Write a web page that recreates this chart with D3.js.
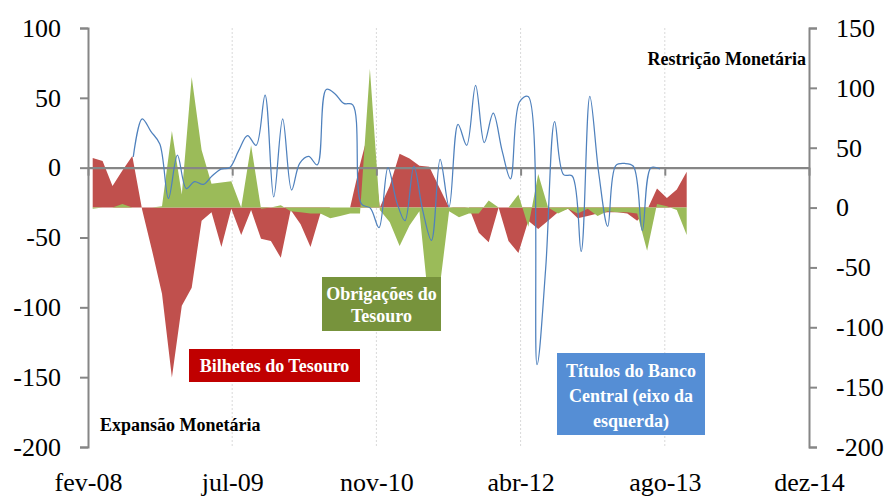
<!DOCTYPE html>
<html>
<head>
<meta charset="utf-8">
<script src="https://cdn.jsdelivr.net/npm/d3@7"></script>
<style>
  body { margin: 0; background: #fff; }
  svg { display: block; }
</style>
</head>
<body>
<div id="chart"></div>
<script>
// eixo de datas (passo de 500 dias entre rótulos)
const axisStart = new Date(2008, 1, 26);
const tickLabels = ["fev-08", "jul-09", "nov-10", "abr-12", "ago-13", "dez-14"];
const leftTicks = [-200, -150, -100, -50, 0, 50, 100];
const rightTicks = [-200, -150, -100, -50, 0, 50, 100, 150];

// meses das séries: ago-08 .. ago-13
const months = d3.timeMonth.range(new Date(2008, 7, 1), new Date(2013, 7, 2));

// Bilhetes do Tesouro (eixo da direita)
const bilhetes = [41.5, 39, 18, 31, 43, -2, -36, -72, -142, -82,
  -67, -11, -4, -33, -1, -23, -2, -26, -28, -42,
  -2, -14, -33, -5, 0, 0, 0, 36, 68, 0,
  18, 45, 41, 35, 34, 17, 0, -1, 0, -21,
  -29, 0, -28, -38, -11, -18, -11, -4, -1, -9,
  -7, -5, -4, -4, -5, -11, -2, 16, 8, 15,
  30];

// Obrigações do Tesouro (eixo da direita)
const obrigacoes = [-1, 0, 0, 3, 0, 0, 0, 1, 64, 11,
  109, 48, 20, 21, 22, 0, 52, -1, 0, 2,
  -3, -4, -5, -5, -9, -7, -5, -5, 116, -2,
  -12, -32, -15, -3, -85, -70, -3, -8, -5, -5,
  6, 0, 0, 11, -16, 28, 0, -5, -1, -5,
  -1, -7, -3, -4, -4, -5, -36, 3, 1, -2,
  -23];

// Títulos do Banco Central (eixo da esquerda)
const titulos = [7.7, 35, 26, 17, -22, 9, -15, -10, -12, -6,
  -1, 0, 12, 23, 16, 52, -21, 35, -16, 3,
  8, 2, 56, 53, 46, 45, -26, -29, -43, 0,
  -25, -38, 1, -30, -52, 6, -28, 31, 16, 59,
  18, 39, 12, -8, 47, 51, -141, -72, 33, -5,
  -6, -60, 51, -4, -42, 1.5, 3, 1, -45, 0,
  -1];

const width = 889, height = 496;
const plotLeft = 88, plotRight = 809, plotTop = 28, plotBottom = 447;
const axisGray = "#868686";

// escolhe a primeira fonte serifada realmente instalada
function pickFont(candidates, fallback) {
  const ctx = document.createElement("canvas").getContext("2d");
  const sample = "Restrição Monetária 0123456789 fev-08";
  const base = f => { ctx.font = "40px " + f; return ctx.measureText(sample).width; };
  const mono = base("monospace"), sans = base("sans-serif");
  for (const c of candidates) {
    if (base(`'${c}', monospace`) !== mono && base(`'${c}', sans-serif`) !== sans) return `'${c}'`;
  }
  return fallback;
}
const serif = pickFont(["Liberation Serif", "DejaVu Serif", "Tinos", "Noto Serif", "Times New Roman", "FreeSerif", "Nimbus Roman"], "serif");

const svg = d3.select("#chart").append("svg")
  .attr("width", width)
  .attr("height", height)
  .attr("font-family", serif);

const tickDates = tickLabels.map((_, k) => d3.timeDay.offset(axisStart, 500 * k));

// escala principal (datas) e escala secundária (categorias das áreas)
const xTime = d3.scaleTime()
  .domain([tickDates[0], tickDates[tickDates.length - 1]])
  .range([plotLeft, plotRight]);
const xSec = d3.scalePoint()
  .domain(d3.range(months.length))
  .range([plotLeft + 4.7, plotLeft + 598.7]);

const yLeft = d3.scaleLinear().domain([-200, 100]).range([plotBottom, plotTop]);
const yRight = d3.scaleLinear().domain([-200, 150]).range([plotBottom, plotTop]);

// linhas de grade verticais pontilhadas
svg.append("g")
  .selectAll("line")
  .data(tickDates.slice(1, -1))
  .join("line")
  .attr("x1", d => xTime(d)).attr("x2", d => xTime(d))
  .attr("y1", plotTop).attr("y2", plotBottom)
  .attr("stroke", "#d9d9d9")
  .attr("stroke-width", 1)
  .attr("stroke-dasharray", "2,2");

// áreas
const area = d3.area()
  .x((d, i) => xSec(i))
  .y0(yRight(0))
  .y1(d => yRight(d));

svg.append("path").datum(bilhetes)
  .attr("d", area)
  .attr("fill", "#C0504D");

svg.append("path").datum(obrigacoes)
  .attr("d", area)
  .attr("fill", "#9BBB59");

// eixo horizontal no zero da esquerda
const zeroAxis = svg.append("g")
  .attr("transform", `translate(0,${yLeft(0)})`)
  .call(d3.axisBottom(xTime)
    .tickValues(tickDates)
    .tickSize(8)
    .tickSizeOuter(0)
    .tickFormat(""));
zeroAxis.select(".domain").attr("stroke", axisGray).attr("stroke-width", 2.25);
zeroAxis.selectAll(".tick line").attr("stroke", axisGray).attr("stroke-width", 2);

// linha dos Títulos do Banco Central
const line = d3.line()
  .x((d, i) => xTime(months[i]))
  .y(d => yLeft(d))
  .curve(d3.curveCatmullRom);

svg.append("path").datum(titulos)
  .attr("d", line)
  .attr("fill", "none")
  .attr("stroke", "#4F81BD")
  .attr("stroke-width", 1.25);

// eixos verticais
function styleAxis(g) {
  g.attr("font-family", serif);
  g.select(".domain").attr("stroke", axisGray).attr("stroke-width", 2);
  g.selectAll(".tick line").attr("stroke", axisGray).attr("stroke-width", 2);
  g.selectAll(".tick text").attr("font-size", 26).attr("fill", "#000");
}

svg.append("g")
  .attr("transform", `translate(${plotLeft},0)`)
  .call(d3.axisLeft(yLeft).tickValues(leftTicks).tickSize(8).tickSizeOuter(8).tickPadding(19).tickFormat(d => String(d)))
  .call(styleAxis);

svg.append("g")
  .attr("transform", `translate(${plotRight},0)`)
  .call(d3.axisRight(yRight).tickValues(rightTicks).tickSize(8).tickSizeOuter(8).tickPadding(19).tickFormat(d => String(d)))
  .call(styleAxis);

// rótulos de data
const xLabels = svg.append("g")
  .attr("transform", `translate(0,${plotBottom})`)
  .call(d3.axisBottom(xTime).tickValues(tickDates).tickSize(0).tickPadding(26)
    .tickFormat((d, i) => tickLabels[i]));
xLabels.attr("font-family", serif);
xLabels.select(".domain").remove();
xLabels.selectAll(".tick text").attr("font-size", 26).attr("fill", "#000");

// caixas de legenda
const boxes = [
  { x: 189, y: 349, w: 171, h: 33, fill: "#C00000", lines: ["Bilhetes do Tesouro"], base: 372 },
  { x: 322, y: 277, w: 119, h: 54, fill: "#77933C", lines: ["Obrigações do", "Tesouro"], base: 300 },
  { x: 557, y: 353, w: 148, h: 82, fill: "#558ED5", lines: ["Títulos do Banco", "Central (eixo da", "esquerda)"], base: 377 }
];

boxes.forEach(b => {
  const g = svg.append("g");
  g.append("rect")
    .attr("x", b.x).attr("y", b.y)
    .attr("width", b.w).attr("height", b.h)
    .attr("fill", b.fill);
  g.selectAll("text")
    .data(b.lines)
    .join("text")
    .attr("x", b.x + b.w / 2)
    .attr("y", (d, i) => b.base + i * (b.lines.length === 2 ? 22 : 25))
    .attr("text-anchor", "middle")
    .attr("font-size", 18)
    .attr("font-weight", "bold")
    .attr("fill", "#fff")
    .text(d => d);
});

svg.append("text")
  .attr("x", 806).attr("y", 65)
  .attr("text-anchor", "end")
  .attr("font-size", 18)
  .attr("font-weight", "bold")
  .attr("fill", "#000")
  .text("Restrição Monetária");

svg.append("text")
  .attr("x", 100).attr("y", 431)
  .attr("font-size", 18)
  .attr("font-weight", "bold")
  .attr("fill", "#000")
  .text("Expansão Monetária");
</script>
</body>
</html>
